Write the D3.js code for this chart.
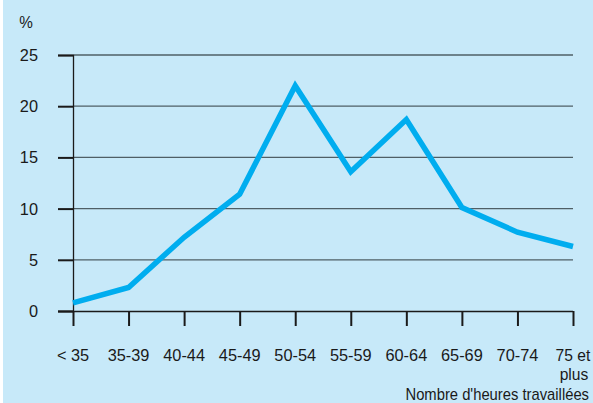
<!DOCTYPE html>
<html>
<head>
<meta charset="utf-8">
<script src="https://cdn.jsdelivr.net/npm/d3@7"></script>
<style>
  html, body { margin: 0; padding: 0; background: #ffffff; }
  svg { display: block; }
  text { font-family: "Liberation Sans", Arial, Helvetica, sans-serif; fill: #1a1a1a; }
</style>
</head>
<body>
<script>
// Share of workers by weekly hours worked (%)
const categories = ["< 35", "35-39", "40-44", "45-49", "50-54", "55-59", "60-64", "65-69", "70-74", "75 et plus"];
const shares = [0.8, 2.3, 7.2, 11.4, 22.0, 13.6, 18.7, 10.1, 7.7, 6.3];
const yTicks = [0, 5, 10, 15, 20, 25];

const W = 593, H = 403;
const FS = 17;
const svg = d3.select("body").append("svg").attr("width", W).attr("height", H);

// Slightly condensed text, anchored at (px, py)
function label(g, px, py, str, anchor, sx) {
  return g.append("text")
    .attr("transform", `translate(${px},${py}) scale(${sx},1)`)
    .attr("text-anchor", anchor).attr("font-size", FS).text(str);
}

svg.append("rect").attr("x", 3).attr("y", 0).attr("width", W - 3).attr("height", H).attr("fill", "#c7e9f9");

const x = d3.scalePoint().domain(categories).range([73, 573]);
const y = d3.scaleLinear().domain([0, 25]).range([311, 55]);

// Horizontal gridlines
svg.append("g").selectAll("line").data(yTicks.filter(d => d > 0)).join("line")
  .attr("x1", 73).attr("x2", 573)
  .attr("y1", d => y(d)).attr("y2", d => y(d))
  .attr("stroke", "#4f5f66").attr("stroke-width", 1.3);

// Y axis
const yAxis = svg.append("g").attr("transform", "translate(73,0)")
  .call(d3.axisLeft(y).tickValues(yTicks).tickSize(15).tickFormat(() => ""));
yAxis.select(".domain").attr("stroke", "#1a1a1a").attr("stroke-width", 1.3);
yAxis.selectAll(".tick line").attr("stroke", "#1a1a1a").attr("stroke-width", 2);

const yLabels = svg.append("g");
yTicks.forEach(v => label(yLabels, 38, y(v) + 6, d3.format("d")(v), "end", 0.96));
label(svg, 26, 28, "%", "middle", 0.9);

// X axis
const xAxis = svg.append("g").attr("transform", "translate(0,311)")
  .call(d3.axisBottom(x).tickSize(15).tickSizeOuter(0).tickFormat(() => ""));
xAxis.select(".domain").attr("stroke", "#1a1a1a").attr("stroke-width", 1.5)
  .attr("d", "M58,0.5H573");
xAxis.selectAll(".tick line").attr("stroke", "#1a1a1a").attr("stroke-width", 2);

// Category labels (last one wraps over two lines)
const xLabels = svg.append("g");
categories.forEach(c => {
  if (c === "75 et plus") {
    label(xLabels, x(c), 361, "75 et", "middle", 0.92);
    label(xLabels, x(c) + 1, 380, "plus", "middle", 0.92);
  } else {
    label(xLabels, x(c), 361, c, "middle", 0.96);
  }
});

label(svg, 589, 400, "Nombre d'heures travaillées", "end", 0.87);

// Line series
const line = d3.line().x((d, i) => x(categories[i])).y(d => y(d));
svg.append("path").datum(shares).attr("d", line)
  .attr("fill", "none").attr("stroke", "#00adef").attr("stroke-width", 5.5)
  .attr("stroke-linejoin", "miter").attr("stroke-linecap", "butt");
</script>
</body>
</html>
